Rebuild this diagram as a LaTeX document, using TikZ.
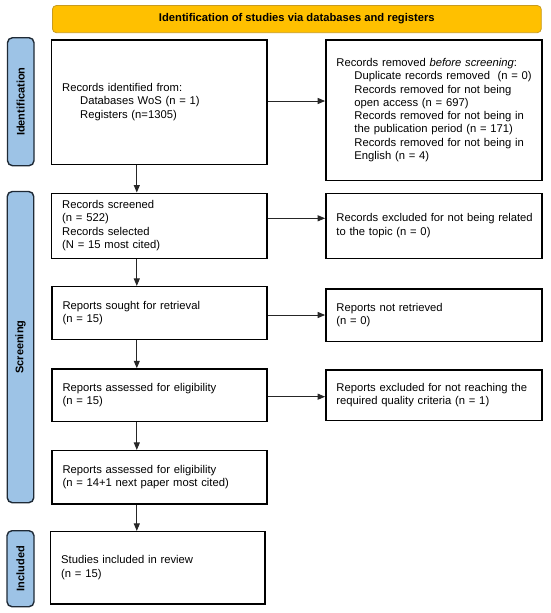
\documentclass[tikz,border=0pt]{standalone}
\usepackage{fontspec}
\setmainfont{Liberation Sans}
\usetikzlibrary{arrows.meta}
\definecolor{bannerfill}{HTML}{FFC000}
\definecolor{bannerdraw}{HTML}{C89B1E}
\definecolor{labelfill}{HTML}{9DC3E6}
\definecolor{labeldraw}{HTML}{1F2A36}
\newcommand{\ind}{\hspace*{18pt}}
\begin{document}
\begin{tikzpicture}[x=1pt,y=-1pt,
  box/.style={draw=black, line width=1.5pt, inner xsep=10.5pt, inner ysep=0pt,
    align=left, font=\fontsize{11.25}{13.3}\selectfont},
  sidelabel/.style={draw=labeldraw, fill=labelfill, line width=1.4pt,
    rounded corners=5pt, rotate=90, inner sep=0pt,
    font=\bfseries\fontsize{11}{13}\selectfont},
  banner/.style={draw=bannerdraw, fill=bannerfill, line width=0.8pt,
    rounded corners=4pt, inner sep=0pt,
    font=\bfseries\fontsize{11.2}{13}\selectfont},
  arr/.style={draw=black!85, line width=1pt, -{Triangle[length=7.5pt,width=6pt]}}]
\useasboundingbox (0,0) rectangle (550,613);

% banner
\node[banner, minimum width=488.9pt, minimum height=27.2pt] (title) at (296.85,19.1)
  {Identification of studies via databases and registers};

% side labels
\node[sidelabel, minimum width=128pt, minimum height=26.5pt] (lid) at (20.75,101.7) {Identification};
\node[sidelabel, minimum width=311.2pt, minimum height=26.5pt] (lsc) at (20.5,347.1) {Screening};
\node[sidelabel, minimum width=76pt, minimum height=27pt] (lin) at (20.5,568.7) {Included};

% main column
\node[box, text width=194.1pt, minimum height=124.3pt] (b1) at (159.25,102.15)
  {\begin{tabular}{@{}l@{}}Records identified from:\\ \ind Databases WoS (n = 1)\\ \ind Registers (n=1305)\end{tabular}};
\node[box, text width=194.1pt, minimum height=65pt] (b2) at (159.25,225.8)
  {\begin{tabular}{@{}l@{}}Records screened\\ (n = 522)\\ Records selected\\ (N = 15 most cited)\end{tabular}};
\node[box, text width=194.1pt, minimum height=52.6pt] (b3) at (159.6,313)
  {\begin{tabular}{@{}l@{}}Reports sought for retrieval\\ (n = 15)\end{tabular}};
\node[box, text width=194.1pt, minimum height=52.7pt] (b4) at (159.6,395.35)
  {\begin{tabular}{@{}l@{}}Reports assessed for eligibility\\ (n = 15)\end{tabular}};
\node[box, text width=194.1pt, minimum height=53.3pt] (b5) at (159.6,477.35)
  {\begin{tabular}{@{}l@{}}Reports assessed for eligibility\\ (n = 14+1 next paper most cited)\end{tabular}};
\node[box, text width=193.3pt, minimum height=72.3pt] (b6) at (157.85,567.85)
  {\begin{tabular}{@{}l@{}}Studies included in review\\ (n = 15)\end{tabular}};

% right column
\node[box, text width=195.1pt, minimum height=140.7pt] (r1) at (433.95,110.35)
  {\begin{tabular}{@{}l@{}}Records removed \textit{before screening}:\\
   \ind Duplicate records removed\ \ (n = 0)\\
   \ind Records removed for not being\\
   \ind open access (n = 697)\\
   \ind Records removed for not being in\\
   \ind the publication period (n = 171)\\
   \ind Records removed for not being in\\
   \ind English (n = 4)\end{tabular}};
\node[box, text width=195.1pt, minimum height=65pt] (r2) at (433.95,225.8)
  {\begin{tabular}{@{}l@{}}Records excluded for not being related\\ to the topic (n = 0)\end{tabular}};
\node[box, text width=195.1pt, minimum height=52.7pt] (r3) at (433.95,315.35)
  {\begin{tabular}{@{}l@{}}Reports not retrieved\\ (n = 0)\end{tabular}};
\node[box, text width=195.1pt, minimum height=50.7pt] (r4) at (433.95,395.35)
  {\begin{tabular}{@{}l@{}}Reports excluded for not reaching the\\ required quality criteria (n = 1)\end{tabular}};

% connectors
\coordinate (ax) at (136.8,0);
\draw[arr] (b1.south -| ax) -- (b2.north -| ax);
\draw[arr] (b2.south -| ax) -- (b3.north -| ax);
\draw[arr] (b3.south -| ax) -- (b4.north -| ax);
\draw[arr] (b4.south -| ax) -- (b5.north -| ax);
\draw[arr] (b5.south -| ax) -- (b6.north -| ax);

\coordinate (h1) at (0,101);
\coordinate (h2) at (0,218.3);
\coordinate (h3) at (0,315);
\coordinate (h4) at (0,396.7);
\draw[arr] (b1.east |- h1) -- (r1.west |- h1);
\draw[arr] (b2.east |- h2) -- (r2.west |- h2);
\draw[arr] (b3.east |- h3) -- (r3.west |- h3);
\draw[arr] (b4.east |- h4) -- (r4.west |- h4);
\end{tikzpicture}
\end{document}
